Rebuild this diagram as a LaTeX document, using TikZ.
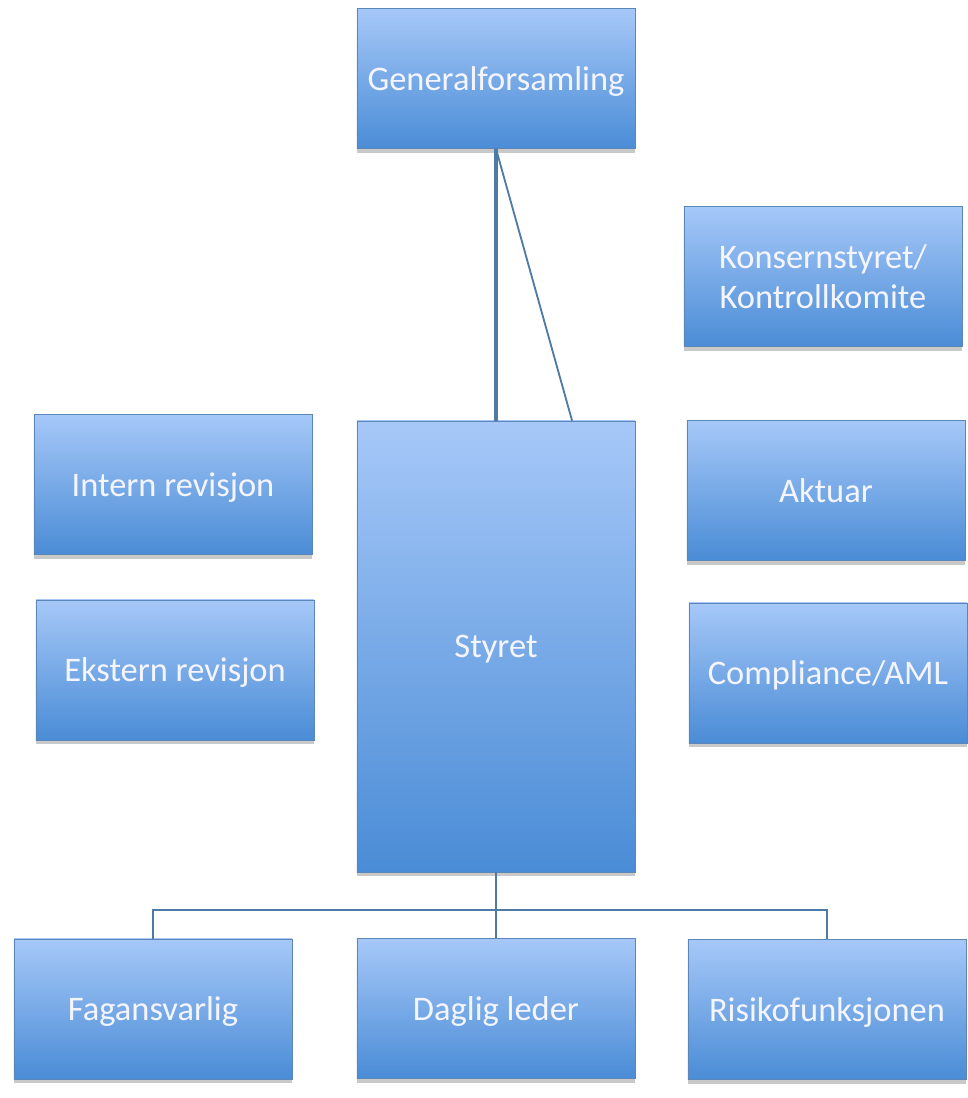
\documentclass[tikz,border=0pt]{standalone}
\usepackage{fontspec}
\setmainfont{Carlito}
\usetikzlibrary{shadows, positioning, calc}
\definecolor{boxTop}{HTML}{A6C8F8}
\definecolor{boxBottom}{HTML}{4A8CD6}
\definecolor{boxEdge}{HTML}{5B86B8}
\definecolor{lineBlue}{HTML}{4E7AA6}
\tikzset{
  unit/.style = {
    rectangle,
    draw=boxEdge,
    line width=.4pt,
    top color=boxTop,
    bottom color=boxBottom,
    text=white!96!blue,
    align=center,
    font=\fontsize{24.5}{29}\selectfont,
    minimum width=6.95cm,
    minimum height=3.5cm,
    inner sep=0pt,
    text depth=0pt,
    drop shadow={shadow xshift=0pt, shadow yshift=-3pt, opacity=.3, fill=black!70},
  },
  link/.style = {
    draw=lineBlue,
    line width=1.3pt,
  },
}

\begin{document}
\begin{tikzpicture}[x=0.025cm, y=-0.025cm]
\useasboundingbox (0,0) rectangle (967,1098);

\node(General)[unit] at (496,78.5) {Generalforsamling};
\node(Konsern)[unit] at (823,276.5) {Konsernstyret/\\Kontrollkomite};
\node(Intern)[unit] at (173,484.5) {Intern revisjon};
\node(Styret)[unit, minimum height=11.275cm] at (496,646.5) {Styret};
\node(Aktuar)[unit] at (826,490.5) {Aktuar};
\node(Ekstern)[unit] at (175,670) {Ekstern revisjon};
\node(Compliance)[unit] at (828,673) {Compliance/AML};
\node(Fag)[unit] at (153,1009) {Fagansvarlig};
\node(Daglig)[unit] at (496,1008.5) {Daglig leder};
\node(Risiko)[unit] at (827,1009.5) {Risikofunksjonen};

\draw[link, line width=2.2pt] (General) -- (Styret);
\draw[link] (General.south) -- ($(Styret.north west)!.773!(Styret.north east)$);

\coordinate(Fork) at (496,910);
\draw[link] (Styret) -- (Fork);
\draw[link] (Fork) -| (Fag);
\draw[link] (Fork) -| (Risiko);
\draw[link] (Fork) -- (Daglig);

\end{tikzpicture}
\end{document}
